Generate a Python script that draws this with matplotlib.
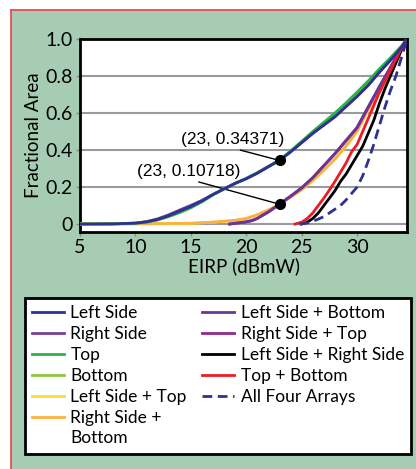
import matplotlib
matplotlib.use('Agg')
import matplotlib.pyplot as plt
from matplotlib.patches import Rectangle
from matplotlib.lines import Line2D

plt.rcParams['font.family'] = ['Lato', 'DejaVu Sans']

# single arrays (upper group of curves)
x_single = [5, 8, 10, 11, 12, 13, 14, 15, 16, 17, 18, 19, 20, 21, 22, 23, 24, 25,
            26, 27, 28, 29, 30, 31, 32, 33, 34, 34.5]
left_side = [0, 0.001, 0.005, 0.012, 0.025, 0.045, 0.07, 0.095, 0.125, 0.16, 0.19, 0.22,
             0.245, 0.275, 0.31, 0.344, 0.39, 0.44, 0.49, 0.535, 0.58, 0.635, 0.69,
             0.75, 0.82, 0.885, 0.955, 1.0]
right_side = [0, 0.001, 0.005, 0.013, 0.028, 0.05, 0.076, 0.101, 0.128, 0.16, 0.19, 0.22,
              0.245, 0.275, 0.31, 0.344, 0.39, 0.44, 0.49, 0.535, 0.58, 0.635, 0.69,
              0.75, 0.82, 0.885, 0.955, 1.0]
top = [0, 0.001, 0.004, 0.01, 0.022, 0.04, 0.062, 0.088, 0.12, 0.158, 0.19, 0.22,
       0.247, 0.278, 0.312, 0.346, 0.395, 0.447, 0.5, 0.55, 0.6, 0.655, 0.713,
       0.773, 0.838, 0.898, 0.962, 1.0]
bottom = [0, 0.001, 0.004, 0.011, 0.023, 0.042, 0.065, 0.09, 0.122, 0.158, 0.19, 0.22,
          0.246, 0.277, 0.311, 0.345, 0.393, 0.445, 0.497, 0.546, 0.595, 0.65, 0.708,
          0.768, 0.833, 0.894, 0.96, 1.0]

# pairs of arrays (middle group)
x_pair_a = [5, 10, 15, 17, 19, 20, 21, 22, 23, 24, 25, 26, 27, 28, 29, 30, 31, 32, 33, 34, 34.5]
left_top = [0, 0.001, 0.004, 0.01, 0.02, 0.03, 0.05, 0.075, 0.107, 0.145, 0.185, 0.235,
            0.29, 0.35, 0.42, 0.5, 0.615, 0.725, 0.835, 0.945, 1.0]
right_bottom = [0, 0.001, 0.004, 0.01, 0.02, 0.03, 0.05, 0.076, 0.107, 0.146, 0.186, 0.236,
                0.292, 0.352, 0.423, 0.503, 0.62, 0.73, 0.84, 0.948, 1.0]
x_pair_b = [18.5, 19, 20, 20.5, 21, 22, 23, 24, 25, 26, 27, 28, 29, 30, 31, 32, 33, 34, 34.5]
left_bottom = [0, 0.004, 0.012, 0.018, 0.03, 0.065, 0.107, 0.15, 0.195, 0.25, 0.315, 0.38,
               0.45, 0.52, 0.63, 0.74, 0.845, 0.95, 1.0]
right_top = [0, 0.004, 0.012, 0.019, 0.031, 0.066, 0.108, 0.151, 0.196, 0.251, 0.316, 0.381,
             0.452, 0.523, 0.633, 0.742, 0.847, 0.951, 1.0]

# opposite pairs and all four
x_tb = [24.4, 25, 25.5, 26, 26.5, 27, 27.5, 28, 28.5, 29, 29.5, 30, 30.5, 31, 31.5, 32,
        32.5, 33, 33.5, 34, 34.5]
top_bottom = [0, 0.01, 0.03, 0.06, 0.1, 0.14, 0.184, 0.23, 0.28, 0.33, 0.39, 0.43, 0.5,
              0.57, 0.64, 0.71, 0.77, 0.83, 0.89, 0.95, 1.0]
x_lr = [25, 25.5, 26, 26.5, 27, 27.5, 28, 28.5, 29, 29.5, 30, 30.5, 31, 31.5, 32, 32.5,
        33, 33.5, 34, 34.5]
left_right = [0, 0.01, 0.03, 0.06, 0.1, 0.14, 0.18, 0.23, 0.27, 0.32, 0.37, 0.42, 0.49,
              0.56, 0.65, 0.73, 0.8, 0.87, 0.94, 1.0]
x_all = [24.8, 25.5, 26, 26.5, 27, 27.5, 28, 28.5, 29, 29.5, 30, 30.5, 31, 31.5, 32, 32.5,
         33, 33.5, 34, 34.5]
all_four = [0, 0.005, 0.015, 0.027, 0.04, 0.06, 0.08, 0.1, 0.13, 0.165, 0.2, 0.26, 0.34,
            0.43, 0.53, 0.63, 0.72, 0.8, 0.9, 1.0]

marked_x = 23
marked_y = [0.34371, 0.10718]

fig = plt.figure(figsize=(4.16, 4.69), dpi=100)
fig.patch.set_facecolor('white')
fig.patches.append(Rectangle((10.5 / 416, 0), 1, 1 - 10.5 / 469, transform=fig.transFigure,
                             facecolor='#a6cdb3', edgecolor='none', zorder=-10))
fig.lines.append(Line2D([10.5 / 416, 10.5 / 416], [0, 1 - 10.5 / 469], transform=fig.transFigure,
                        color='#e8424a', lw=1.2))
fig.lines.append(Line2D([10.5 / 416, 1], [1 - 10.5 / 469, 1 - 10.5 / 469], transform=fig.transFigure,
                        color='#e8424a', lw=1.2))

ax = fig.add_axes([80 / 416, 1 - 232 / 469, 327 / 416, 193 / 469])
ax.set_facecolor('white')

lw = 2
h_ls, = ax.plot(x_single, left_side, color='#2e3192', lw=lw, zorder=5, label='Left Side')
h_rs, = ax.plot(x_single, right_side, color='#7b3f9a', lw=lw, zorder=3, label='Right Side')
h_t, = ax.plot(x_single, top, color='#2bb34b', lw=lw, zorder=4, label='Top')
h_b, = ax.plot(x_single, bottom, color='#8cc63f', lw=lw, zorder=3, label='Bottom')
h_lt, = ax.plot(x_pair_a, left_top, color='#f9dc3a', lw=lw, zorder=3, label='Left Side + Top')
h_rb, = ax.plot(x_pair_a, right_bottom, color='#fbb040', lw=lw, zorder=3, label='Right Side +')
h_lb, = ax.plot(x_pair_b, left_bottom, color='#6a3594', lw=lw, zorder=4, label='Left Side + Bottom')
h_rt, = ax.plot(x_pair_b, right_top, color='#93278f', lw=lw, zorder=3, label='Right Side + Top')
h_lr, = ax.plot(x_lr, left_right, color='black', lw=lw, zorder=3, label='Left Side + Right Side')
h_tb, = ax.plot(x_tb, top_bottom, color='#ed1c24', lw=lw, zorder=4, label='Top + Bottom')
h_all, = ax.plot(x_all, all_four, color='#2e3192', lw=lw, ls=(0, (3.5, 2)), zorder=4,
                 label='All Four Arrays')

ax.plot([marked_x] * 2, marked_y, 'o', color='black', ms=7, zorder=6)
ann_font = dict(family='Liberation Sans', fontsize=12.5)
ax.annotate('(23, 0.34371)', xy=(marked_x, marked_y[0]), xytext=(18.8, 0.455),
            ha='center', va='center', **ann_font,
            arrowprops=dict(arrowstyle='-', color='black', lw=1, relpos=(0.47, 0),
                            shrinkA=0, shrinkB=0))
ax.annotate('(23, 0.10718)', xy=(marked_x, marked_y[1]), xytext=(14.8, 0.283),
            ha='center', va='center', **ann_font,
            arrowprops=dict(arrowstyle='-', color='black', lw=1, relpos=(0.5, 0),
                            shrinkA=0, shrinkB=0))

ax.set_xlim(5, 34.5)
ax.set_ylim(-0.043, 1.0)
ax.set_xticks([5, 10, 15, 20, 25, 30])
ax.set_yticks([0, 0.2, 0.4, 0.6, 0.8, 1.0])
ax.set_yticklabels(['0', '0.2', '0.4', '0.6', '0.8', '1.0'])
ax.yaxis.grid(True, color='#9a9a9a', lw=1.5)
ax.set_axisbelow(True)
for s in ax.spines.values():
    s.set_linewidth(2)
ax.tick_params(axis='both', labelsize=14, length=3, width=1, color='#888888', pad=2)
ax.set_xlabel('EIRP (dBmW)', fontsize=13.5, labelpad=1)
ax.set_ylabel('Fractional Area', fontsize=13.5, labelpad=3)

blank = Line2D([], [], color='none')
handles = [h_ls, h_rs, h_t, h_b, h_lt, h_rb, blank,
           h_lb, h_rt, h_lr, h_tb, h_all, blank, blank]
labels = [h.get_label() for h in handles[:6]] + ['Bottom'] + \
         [h.get_label() for h in handles[7:12]] + ['', '']
leg = fig.legend(handles, labels, loc='upper left', bbox_to_anchor=(25 / 416, 1 - 298 / 469),
                 ncol=2, fontsize=12.5, frameon=True, fancybox=False, edgecolor='black',
                 framealpha=1, borderaxespad=0, handlelength=1.8, handletextpad=0.4,
                 columnspacing=0.9, labelspacing=0.28, borderpad=0.42)
leg.get_frame().set_linewidth(2)

plt.savefig('out.png', dpi=100)
